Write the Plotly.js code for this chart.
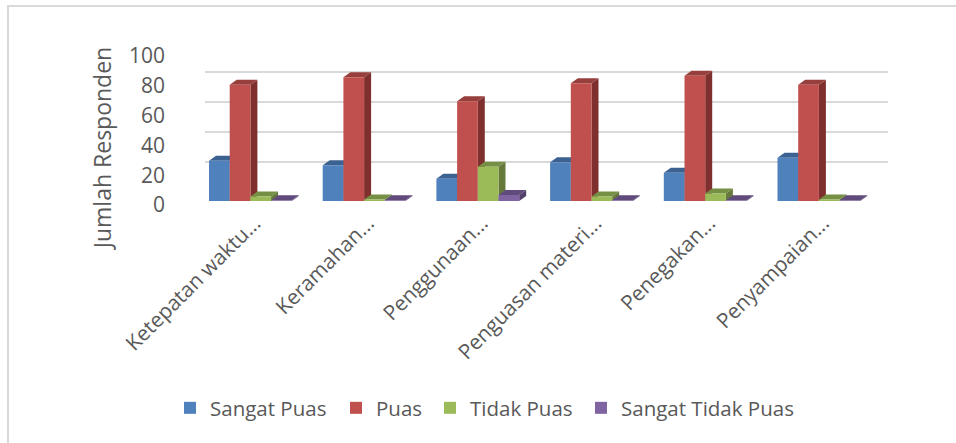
<!DOCTYPE html>
<html><head><meta charset="utf-8">
<script src="https://cdn.plot.ly/plotly-3.0.1.min.js"></script>
<style>html,body{margin:0;padding:0;background:#fff}#c{width:956px;height:443px}</style>
</head><body><div id="c"></div>
<script>
const categories = ["Ketepatan waktu...","Keramahan...","Penggunaan...","Penguasan materi...","Penegakan...","Penyampaian..."];
const seriesNames = ["Sangat Puas","Puas","Tidak Puas","Sangat Tidak Puas"];
const sangatPuas = [27,24,15,26,19,29];
const puas = [78,83,67,79,84,78];
const tidakPuas = [3,1,23,3,5,1];
const sangatTidakPuas = [0.5,0.5,4,0.5,0.5,0.5];
const seriesValues = [sangatPuas,puas,tidakPuas,sangatTidakPuas];
const frontColors = ["#4f81bd","#c0504d","#9bbb59","#8064a2"];
const topColors = ["#3b6291","#963f3c","#759044","#614b7c"];
const sideColors = ["#33557e","#7f302e","#66793a","#54416b"];
const legendIds = ["legend","legend2","legend3","legend4"];
const legendLeft = [170,336,430,581];

const W=956,H=443;
const fx=p=>p/W, fy=p=>1-p/H;
const barW=0.182, dx=7, dy=5, tickVals=[0,20,40,60,80,100];
const idx=categories.map((_,i)=>i);
const FONT="'Open Sans', sans-serif", TXT="#595959";

const traces=seriesValues.map((vals,s)=>({
  type:"bar",name:seriesNames[s],x:idx,y:vals,width:barW,offset:(s-2)*barW,
  xaxis:"x2",yaxis:"y2",legend:legendIds[s],
  marker:{color:frontColors[s],line:{width:0}},hoverinfo:"x+y+name"
}));
// invisible traces that keep the back-wall axes and the title axis drawn
traces.unshift({type:"scatter",mode:"none",x:idx,y:sangatPuas,xaxis:"x",yaxis:"y",showlegend:false,hoverinfo:"skip"});
traces.unshift({type:"scatter",mode:"none",x:idx,y:sangatPuas,xaxis:"x",yaxis:"y3",showlegend:false,hoverinfo:"skip"});

const shapes=[];
// side-wall and floor slants of the gridlines
tickVals.forEach(v=>{
  shapes.push({type:"line",layer:"below",xref:"x",yref:"y",xsizemode:"pixel",ysizemode:"pixel",
    xanchor:-0.5,yanchor:v,x0:-18,y0:-12,x1:0,y1:0,line:{color:"#d9d9d9",width:2}});
});
// depth faces of the bars, anchored on each bar's value
seriesValues.forEach((vals,s)=>{
  vals.forEach((v,i)=>{
    const right=i+(s-1)*barW, wpx=20.7;
    shapes.push({type:"path",layer:"between",xref:"x2",yref:"y2",xsizemode:"pixel",ysizemode:"pixel",
      xanchor:right,yanchor:v,
      path:`M0,0 L${dx},${dy} L${dx},${dy-v*1.49} L0,${-v*1.49} Z`,
      fillcolor:sideColors[s],line:{width:0}});
    shapes.push({type:"path",layer:"between",xref:"x2",yref:"y2",xsizemode:"pixel",ysizemode:"pixel",
      xanchor:right,yanchor:v,
      path:`M0,0 L${-wpx},0 L${dx-wpx},${dy} L${dx},${dy} Z`,
      fillcolor:topColors[s],line:{width:0}});
  });
});
// frame of the chart area
shapes.push({type:"rect",xref:"paper",yref:"paper",x0:fx(8),x1:fx(960),y0:fy(447),y1:fy(6),layer:"below",
  line:{color:"#d9d9d9",width:2},fillcolor:"rgba(0,0,0,0)"});

const layout={
  width:W,height:H,margin:{l:0,r:0,t:0,b:0},paper_bgcolor:"#fff",plot_bgcolor:"rgba(0,0,0,0)",
  font:{family:FONT,color:TXT,size:18},
  barmode:"overlay",
  xaxis:{domain:[fx(205),fx(888)],range:[-0.5,5.5],showgrid:false,showticklabels:false,zeroline:false,showline:false,ticks:""},
  yaxis:{domain:[fy(192),fy(42.3)],range:[0,100],tickvals:tickVals,showgrid:true,gridcolor:"#d9d9d9",gridwidth:2,
    zeroline:false,showline:false,showticklabels:false,ticks:""},
  xaxis2:{domain:[fx(193.55),fx(875.75)],range:[-0.5,5.5],anchor:"y2",
    tickmode:"array",tickvals:idx,ticktext:categories,tickangle:-45,tickfont:{size:20.8,color:TXT,family:FONT},
    showgrid:false,zeroline:false,showline:false,ticks:"",ticklabelstandoff:5,ticklabelshift:4},
  yaxis2:{domain:[fy(201),fy(52)],range:[0,100],anchor:"free",position:fx(165),
    tickmode:"array",tickvals:tickVals,tickfont:{size:21,color:TXT,family:FONT},
    showgrid:false,zeroline:false,showline:false,ticks:"",ticklabelshift:4},
  yaxis3:{domain:[fy(248),fy(47)],range:[0,100],anchor:"free",position:fx(120),
    showticklabels:false,showgrid:false,zeroline:false,showline:false,ticks:"",
    title:{text:"Jumlah Responden",font:{size:23,color:TXT,family:FONT},standoff:0}},
  shapes
};
legendIds.forEach((id,s)=>{
  layout[id]={x:fx(legendLeft[s]),y:fy(388),yanchor:"top",xanchor:"left",bgcolor:"rgba(0,0,0,0)",
    font:{size:20.5,color:TXT,family:FONT}};
});
Plotly.newPlot("c",traces,layout,{displayModeBar:false,staticPlot:true});
</script></body></html>
